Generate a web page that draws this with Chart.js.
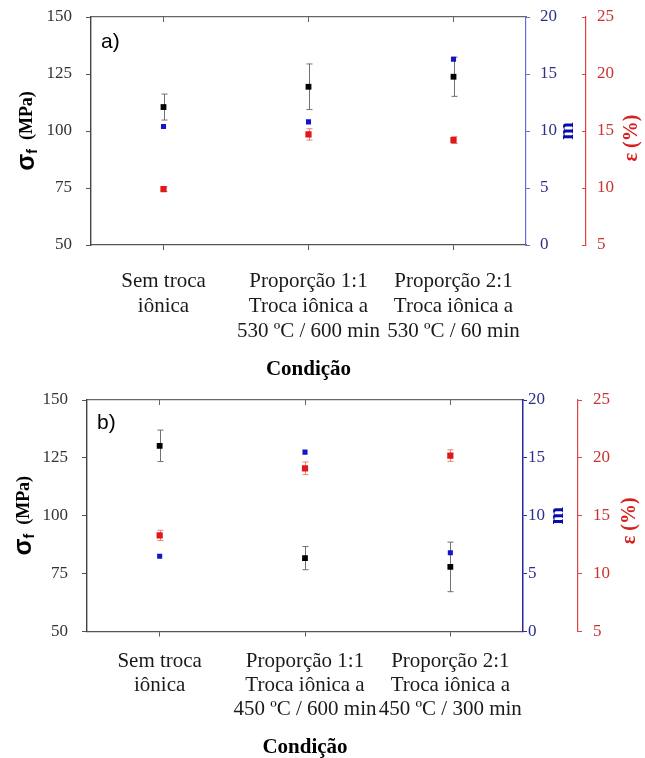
<!DOCTYPE html>
<html><head><meta charset="utf-8">
<script src="https://cdn.jsdelivr.net/npm/chart.js@4.4.1/dist/chart.umd.min.js"></script>
<style>
html,body{margin:0;padding:0;background:#fff;}
#wrap{position:relative;width:645px;height:758px;overflow:hidden;}
canvas{position:absolute;left:0;}
</style>
</head><body><div id="wrap">
<canvas id="ca" width="645" height="380" style="top:0"></canvas>
<canvas id="cb" width="645" height="378" style="top:380px"></canvas>
</div>
<script>
// ---------- data ----------
const categoriesA = [["Sem troca","iônica"],["Proporção 1:1","Troca iônica a","530 ºC / 600 min"],["Proporção 2:1","Troca iônica a","530 ºC / 60 min"]];
const categoriesB = [["Sem troca","iônica"],["Proporção 1:1","Troca iônica a","450 ºC / 600 min"],["Proporção 2:1","Troca iônica a","450 ºC / 300 min"]];

const sigmaA    = [110.5, 119.4, 123.8];
const sigmaErrA = [5.7, 10.0, 8.6];
const mA        = [10.4, 10.8, 16.3];
const epsA      = [9.9, 14.7, 14.2];
const epsErrA   = [0.2, 0.5, 0.3];

const sigmaB    = [130.2, 81.7, 77.9];
const sigmaErrB = [6.8, 5.0, 10.7];
const mB        = [6.5, 15.5, 6.8];
const epsB      = [13.3, 19.1, 20.2];
const epsErrB   = [0.45, 0.55, 0.5];

const sigmaTicks = [50, 75, 100, 125, 150];
const mTicks     = [0, 5, 10, 15, 20];
const epsTicks   = [5, 10, 15, 20, 25];

// ---------- styling ----------
const SERIF = "'Liberation Serif','Times New Roman',serif";
const SANS  = "'Liberation Sans',Arial,sans-serif";
const BLACK = '#000000', BLUE = '#1414c8', RED = '#e01818';

const errorBarPlugin = {
  id: 'errbars',
  beforeDatasetsDraw(chart) {
    const ctx = chart.ctx, xs = chart.scales.x;
    chart.data.datasets.forEach(ds => {
      if (!ds.errors) return;
      const ys = chart.scales[ds.yAxisID];
      ctx.save();
      ctx.strokeStyle = ds.errorColor; ctx.lineWidth = 1;
      ds.data.forEach((v, i) => {
        const e = ds.errors[i]; if (!e) return;
        const x = Math.round(xs.getPixelForValue(i)) + 0.5;
        const y1 = ys.getPixelForValue(v + e), y2 = ys.getPixelForValue(v - e);
        ctx.beginPath();
        ctx.moveTo(x, y1); ctx.lineTo(x, y2);
        ctx.moveTo(x - 3, y1); ctx.lineTo(x + 3, y1);
        ctx.moveTo(x - 3, y2); ctx.lineTo(x + 3, y2);
        ctx.stroke();
      });
      ctx.restore();
    });
  }
};

function titlesPlugin(p) {
  return {
    id: 'titles',
    afterDraw(chart) {
      const ctx = chart.ctx, ca = chart.chartArea;
      const cy = (ca.top + ca.bottom) / 2;
      ctx.save();
      ctx.textBaseline = 'middle';
      // left title: sigma_f (MPa)
      const f1 = "bold 25px " + SANS, f2 = "bold 14px " + SANS, f3 = "bold 18px " + SERIF;
      ctx.font = f1; const w1 = ctx.measureText('σ').width;
      ctx.font = f2; const w2 = ctx.measureText('f').width;
      ctx.font = f3; const w3 = ctx.measureText('  (MPa)').width;
      const tot = w1 + w2 + w3;
      ctx.save();
      ctx.translate(p.sigTitleX, cy);
      ctx.rotate(-Math.PI / 2);
      ctx.fillStyle = '#000'; ctx.textAlign = 'left';
      let x0 = -tot / 2;
      ctx.font = f1; ctx.fillText('σ', x0, 0); x0 += w1;
      ctx.font = f2; ctx.fillText('f', x0, 6); x0 += w2;
      ctx.font = f3; ctx.fillText('  (MPa)', x0, 0);
      ctx.restore();
      // m
      ctx.save();
      ctx.translate(p.mTitleX, cy); ctx.rotate(-Math.PI / 2);
      ctx.font = "bold 21px " + SERIF; ctx.fillStyle = '#0a0aa8'; ctx.textAlign = 'center';
      ctx.fillText('m', 0, 0);
      ctx.restore();
      // eps
      ctx.save();
      ctx.translate(p.eTitleX, cy + p.eTitleDy); ctx.rotate(-Math.PI / 2);
      ctx.font = "bold 20px " + SERIF; ctx.fillStyle = '#d81e1e'; ctx.textAlign = 'center';
      ctx.fillText('ε (%)', 0, 0);
      ctx.restore();
      // x title
      ctx.font = "bold 21px " + SERIF; ctx.fillStyle = '#000'; ctx.textAlign = 'center';
      ctx.fillText('Condição', (ca.left + ca.right) / 2, p.xTitleY);
      // panel label
      ctx.font = "21px " + SANS; ctx.textAlign = 'left';
      ctx.fillText(p.panel, p.panelX, p.panelY);
      ctx.restore();
    }
  };
}

const noPadV = w => s => { s.width = w; s.paddingTop = 0; s.paddingBottom = 0; };
const noPadH = h => s => { s.height = h; s.paddingLeft = 0; s.paddingRight = 0; };

function makePanel(id, p) {
  const pt = (data, yAxisID, color, r, errors, errorColor) => ({
    data, yAxisID, showLine: false, pointStyle: 'rect', pointRadius: r, pointHoverRadius: r,
    backgroundColor: color, borderColor: color, borderWidth: 0, errors, errorColor
  });
  const yTickFont = { family: SERIF, size: 17 };
  return new Chart(document.getElementById(id), {
    type: 'line',
    data: {
      labels: p.labels,
      datasets: [
        pt(p.eps, 'yE', RED, 4.4, p.epsErr, '#e88080'),
        pt(p.m, 'yM', BLUE, 3.6, null, null),
        pt(p.sigma, 'y', BLACK, 4.1, p.sigmaErr, '#707070')
      ]
    },
    options: {
      responsive: false, animation: false, events: [],
      layout: { padding: 0 },
      plugins: { legend: { display: false }, tooltip: { enabled: false } },
      scales: {
        x: {
          type: 'category', position: 'bottom', offset: true,
          grid: { display: true, drawOnChartArea: false, offset: false, tickLength: 5, color: '#555' },
          border: { color: '#555', width: 1.3 },
          ticks: { font: { family: SERIF, size: 21, lineHeight: p.lineH / 21 }, color: '#1a1a1a', padding: p.xPad, maxRotation: 0, autoSkip: false },
          afterFit: noPadH(p.bottomH)
        },
        x2: {
          type: 'category', position: 'top', offset: true, labels: p.labels,
          grid: { display: true, drawOnChartArea: false, offset: false, tickLength: -5, color: '#666' },
          border: { color: '#666', width: 1.2 },
          ticks: { display: false },
          afterFit: noPadH(p.topH)
        },
        y: {
          position: 'left', min: sigmaTicks[0], max: sigmaTicks[sigmaTicks.length - 1],
          afterBuildTicks: s => { s.ticks = sigmaTicks.map(v => ({ value: v })); },
          grid: { drawOnChartArea: false, tickLength: 5, color: '#555' },
          border: { color: '#444', width: 1.4 },
          ticks: { font: yTickFont, color: '#333', padding: 14 },
          afterFit: noPadV(p.leftW)
        },
        yM: {
          position: 'right', weight: 0, min: mTicks[0], max: mTicks[mTicks.length - 1],
          afterBuildTicks: s => { s.ticks = mTicks.map(v => ({ value: v })); },
          grid: { drawOnChartArea: false, tickLength: 4, color: p.mAxisColor },
          border: { color: p.mAxisColor, width: p.mAxisW },
          ticks: { font: yTickFont, color: '#2e2e8e', padding: p.mPad },
          afterFit: noPadV(p.mW)
        },
        yE: {
          position: 'right', weight: 1, min: epsTicks[0], max: epsTicks[epsTicks.length - 1],
          afterBuildTicks: s => { s.ticks = epsTicks.map(v => ({ value: v })); },
          grid: { drawOnChartArea: false, tickLength: p.eTick, color: '#d44' },
          border: { color: '#d44', width: 1.2 },
          ticks: { font: yTickFont, color: '#c83232', padding: p.ePad },
          afterFit: noPadV(p.eW)
        }
      }
    },
    plugins: [errorBarPlugin, titlesPlugin(p)]
  });
}

makePanel('ca', {
  labels: categoriesA, sigma: sigmaA, sigmaErr: sigmaErrA, m: mA, eps: epsA, epsErr: epsErrA,
  topH: 17, bottomH: 135, leftW: 91, mW: 60, eW: 59,
  lineH: 25, xPad: 19,
  mAxisColor: '#6a6ad0', mAxisW: 1.2, mPad: 10,
  eTick: -4, ePad: 15,
  sigTitleX: 27, mTitleX: 568, eTitleX: 632, eTitleDy: 7,
  xTitleY: 370, panel: 'a)', panelX: 101, panelY: 42
});
makePanel('cb', {
  labels: categoriesB, sigma: sigmaB, sigmaErr: sigmaErrB, m: mB, eps: epsB, epsErr: epsErrB,
  topH: 20, bottomH: 126.5, leftW: 87, mW: 55, eW: 67,
  lineH: 24, xPad: 13,
  mAxisColor: '#2828a0', mAxisW: 1.5, mPad: 1,
  eTick: 4, ePad: 11,
  sigTitleX: 24, mTitleX: 558, eTitleX: 630, eTitleDy: 5,
  xTitleY: 368, panel: 'b)', panelX: 97, panelY: 43
});
</script>
</body></html>
